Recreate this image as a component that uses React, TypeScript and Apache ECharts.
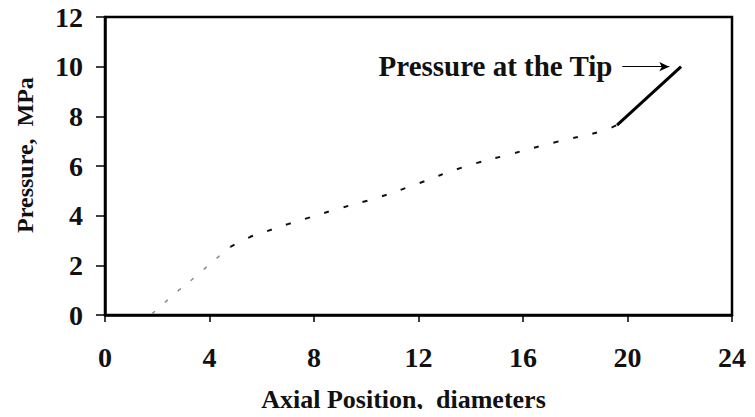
import React, { useEffect, useRef } from "react";
import * as echarts from "echarts";

const xTicks = [0, 4, 8, 12, 16, 20, 24];
const yTicks = [0, 2, 4, 6, 8, 10, 12];

// steep lower part of the dashed curve (lighter grey)
const lowX = [1.8, 2.05, 2.75, 3.45, 4.1, 4.8];
const lowY = [0.05, 0.28, 0.93, 1.53, 2.13, 2.74];

// upper part of the dashed curve
const midX = [4.8, 5.55, 6.1, 7.0, 7.75, 9.0, 10.5, 12.0, 13.7, 15.6, 17.2, 19.0, 19.6];
const midY = [2.74, 3.14, 3.34, 3.66, 3.9, 4.3, 4.75, 5.3, 5.95, 6.5, 6.95, 7.4, 7.65];

// solid tip segment
const tipX = [19.6, 22.05];
const tipY = [7.65, 10.0];

const annotationText = "Pressure at the Tip";
const arrowFrom = [19.8, 10.0];
const arrowTo = [21.6, 10.0];

const FONT = "Liberation Serif";

export default function App() {
  const ref = useRef<HTMLDivElement>(null);
  useEffect(() => {
    if (!ref.current) return;
    const chart = echarts.init(ref.current, undefined, { renderer: "svg" });
    const zip = (xs: number[], ys: number[]) => xs.map((x, i) => [x, ys[i]]);
    chart.setOption({
      animation: false,
      backgroundColor: "#fff",
      grid: {
        left: 105,
        right: 23,
        top: 17,
        bottom: 102,
        containLabel: false,
        outerBoundsMode: "none",
        show: true,
        borderColor: "#000",
        borderWidth: 2.5,
      },
      xAxis: {
        type: "value",
        min: 0,
        max: 24,
        interval: 4,
        name: "Axial Position,  diameters",
        nameLocation: "middle",
        nameGap: 71,
        nameTextStyle: {
          fontFamily: FONT,
          fontWeight: "bold",
          fontSize: 26,
          color: "#111",
          padding: [0, 30, 0, 0],
        },
        axisLine: { show: true, onZero: false, lineStyle: { color: "#000", width: 2.5 } },
        axisTick: { show: true, inside: false, length: 7, lineStyle: { color: "#000", width: 1.5 } },
        axisLabel: {
          margin: 28,
          fontFamily: FONT,
          fontWeight: "bold",
          fontSize: 28,
          color: "#111",
          formatter: (v: number) => (xTicks.includes(v) ? String(v) : ""),
        },
        splitLine: { show: false },
      },
      yAxis: {
        type: "value",
        min: 0,
        max: 12,
        interval: 2,
        name: "Pressure,  MPa",
        nameLocation: "middle",
        nameGap: 68,
        nameTextStyle: {
          fontFamily: FONT,
          fontWeight: "bold",
          fontSize: 24,
          color: "#111",
          padding: [0, 0, 0, 22],
        },
        axisLine: { show: true, onZero: false, lineStyle: { color: "#000", width: 2.5 } },
        axisTick: { show: true, inside: false, length: 9, lineStyle: { color: "#000", width: 1.5 } },
        axisLabel: {
          margin: 22,
          fontFamily: FONT,
          fontWeight: "bold",
          fontSize: 28,
          color: "#111",
          formatter: (v: number) => (yTicks.includes(v) ? String(v) : ""),
        },
        splitLine: { show: false },
      },
      series: [
        {
          type: "line",
          data: zip(lowX, lowY),
          showSymbol: false,
          smooth: true,
          lineStyle: { color: "#888", width: 1.5, type: [4, 13] },
        },
        {
          type: "line",
          data: zip(midX, midY),
          showSymbol: false,
          smooth: true,
          lineStyle: { color: "#111", width: 2, type: [5, 15] },
        },
        {
          type: "line",
          data: zip(tipX, tipY),
          showSymbol: false,
          lineStyle: { color: "#000", width: 3 },
          markLine: {
            silent: true,
            symbol: ["none", "arrow"],
            symbolSize: [7, 10],
            label: { show: false },
            lineStyle: { color: "#000", width: 1.2, type: "solid" },
            data: [[{ coord: arrowFrom }, { coord: arrowTo }]],
          },
        },
      ],
      graphic: [
        {
          type: "text",
          right: 755 - 613,
          top: 51,
          style: {
            text: annotationText,
            fontFamily: FONT,
            fontWeight: "bold",
            fontSize: 29,
            fill: "#111",
          },
        },
      ],
    });
    return () => chart.dispose();
  }, []);
  return <div ref={ref} style={{ width: 755, height: 417, margin: -8 }} />;
}
